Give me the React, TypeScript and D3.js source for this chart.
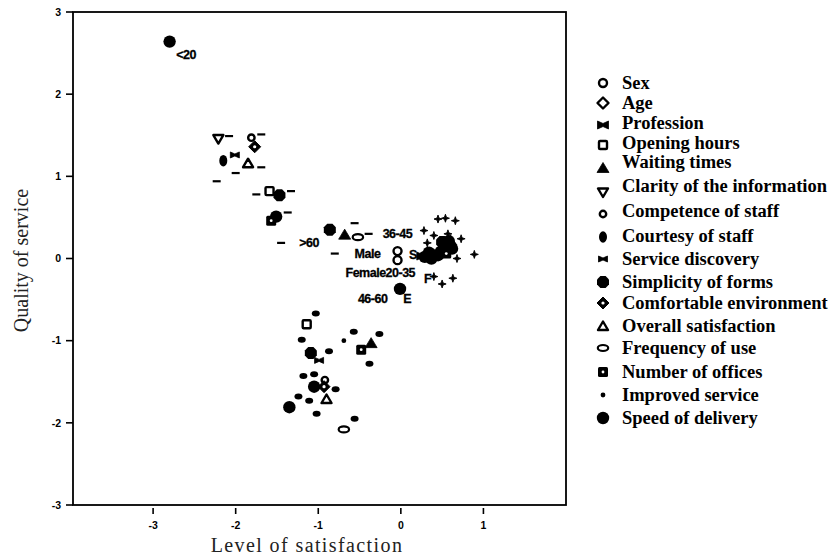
import React from "react";
import * as d3 from "d3";

// ---------- data ----------
const legendNames = [
  "Sex", "Age", "Profession", "Opening hours", "Waiting times",
  "Clarity of the information", "Competence of staff", "Courtesy of staff",
  "Service discovery", "Simplicity of forms", "Comfortable environment",
  "Overall satisfaction", "Frequency of use", "Number of offices",
  "Improved service", "Speed of delivery",
];
const legendShapes = [
  "openCircle", "openDiamond", "bowtie", "openSquare", "triUp",
  "openTriDown", "ring", "vEllipse", "smallBowtie", "octagon",
  "dotDiamond", "openTriUp", "hEllipse", "dotSquare", "smallDot", "bigCircle",
];

const sexPts: [number, number][] = [[-0.04, 0.09], [-0.04, -0.02]];
const agePts: [number, number][] = [];
const professionPts: [number, number][] = [[0.26, 0.03]];
const openingPts: [number, number][] = [[-1.59, 0.82], [-1.14, -0.8]];
const waitingPts: [number, number][] = [[-0.68, 0.29], [-0.36, -1.03], [0.6, 0.22]];
const clarityPts: [number, number][] = [[-2.21, 1.46]];
const competencePts: [number, number][] = [[-1.81, 1.47], [-0.92, -1.48]];
const courtesyPts: [number, number][] = [[-2.15, 1.19], [0.46, 0.08]];
const discoveryPts: [number, number][] = [[-2.01, 1.26], [-0.99, -1.24]];
const simplicityPts: [number, number][] = [[-1.47, 0.77], [-0.86, 0.35], [-1.09, -1.15], [0.6, 0.15], [0.38, 0.04], [0.5, 0.2]];
const comfortPts: [number, number][] = [[-1.77, 1.36], [-0.93, -1.56]];
const overallPts: [number, number][] = [[-1.85, 1.16], [-0.9, -1.71]];
const frequencyPts: [number, number][] = [[-0.52, 0.26], [-0.69, -2.08]];
const officesPts: [number, number][] = [[-1.57, 0.46], [-0.48, -1.11], [0.55, 0.06]];
const improvedPts: [number, number][] = [[-0.69, -1.0]];
const speedPts: [number, number][] = [
  [-2.8, 2.64], [-1.51, 0.51], [-0.01, -0.37], [-1.35, -1.81], [-1.05, -1.56],
  [0.29, 0.02], [0.34, 0.07], [0.37, 0.0], [0.45, 0.04], [0.52, 0.12],
  [0.58, 0.21], [0.62, 0.12],
];

const dashPts: [number, number][] = [
  [-2.08, 1.49], [-1.69, 1.51], [-1.69, 1.11], [-2.0, 1.04], [-2.23, 0.94],
  [-1.75, 0.78], [-1.33, 0.82], [-1.37, 0.56], [-0.56, 0.43], [-1.45, 0.19],
  [-0.39, 0.3], [-0.8, 0.06],
];
const blobPts: [number, number][] = [
  [-1.03, -0.67], [-1.2, -0.99], [-0.57, -0.89], [-0.26, -0.92], [-0.38, -1.28],
  [-0.87, -1.13], [-1.18, -1.43], [-1.05, -1.41], [-0.79, -1.59], [-1.24, -1.68],
  [-1.11, -1.73], [-1.02, -1.89], [-0.56, -1.95],
];
const plusPts: [number, number][] = [
  [0.45, 0.48], [0.54, 0.49], [0.66, 0.46], [0.28, 0.34], [0.4, 0.28],
  [0.57, 0.3], [0.73, 0.24], [0.32, 0.19], [0.89, 0.05], [0.68, 0.0],
  [0.4, -0.22], [0.5, -0.31], [0.63, -0.24],
];

const pointLabels = ["<20", ">60", "36-45", "Male", "S", "Female20-35", "F", "46-60", "E"];
const pointLabelPos: [number, number][] = [
  [-2.72, 2.43], [-1.23, 0.14], [-0.22, 0.25], [-0.56, 0.01], [0.1, 0.0],
  [-0.67, -0.23], [0.28, -0.3], [-0.52, -0.54], [0.03, -0.54],
];

const xTicks = [-3, -2, -1, 0, 1];
const yTicks = [3, 2, 1, 0, -1, -2, -3];

// ---------- layout ----------
const W = 831, H = 558;
const L = 73, R = 566, T = 12, B = 505;
const x = d3.scaleLinear().domain([-3.97, 2.0]).range([L, R]);
const y = d3.scaleLinear().domain([-3, 3]).range([B, T]);

function Marker({ shape, cx, cy }: { shape: string; cx: number; cy: number }) {
  const k = "#000";
  const t = `translate(${cx},${cy})`;
  switch (shape) {
    case "openCircle":
      return <circle cx={cx} cy={cy} r={4} fill="#fff" stroke={k} strokeWidth={2.4} />;
    case "openDiamond":
      return <path transform={t} d="M0,-5.5L5.5,0L0,5.5L-5.5,0Z" fill="#fff" stroke={k} strokeWidth={2.4} strokeLinejoin="round" />;
    case "bowtie":
      return <path transform={t} d="M-5.5,-4L0,-1.5L5.5,-4L5.5,4L0,1.5L-5.5,4Z" fill={k} stroke={k} strokeWidth={0.8} strokeLinejoin="round" />;
    case "openSquare":
      return <rect x={cx - 4} y={cy - 4} width={8} height={8} rx={1} fill="#fff" stroke={k} strokeWidth={2.4} />;
    case "triUp":
      return <path transform={t} d="M0,-5.5L6,4.5L-6,4.5Z" fill={k} stroke={k} strokeWidth={0.8} strokeLinejoin="round" />;
    case "openTriDown":
      return <path transform={t} d="M-5,-3.5L5,-3.5L0,5Z" fill="#fff" stroke={k} strokeWidth={2.4} strokeLinejoin="round" />;
    case "ring":
      return <circle cx={cx} cy={cy} r={3.2} fill="#fff" stroke={k} strokeWidth={2.4} />;
    case "vEllipse":
      return <ellipse cx={cx} cy={cy} rx={4} ry={5.8} fill={k} />;
    case "smallBowtie":
      return <path transform={t} d="M-4.5,-3L0,-1L4.5,-3L4.5,3L0,1L-4.5,3Z" fill={k} stroke={k} strokeWidth={0.8} strokeLinejoin="round" />;
    case "octagon":
      return <path transform={t} d="M-2.6,-6L2.6,-6L6,-2.6L6,2.6L2.6,6L-2.6,6L-6,2.6L-6,-2.6Z" fill={k} />;
    case "dotDiamond":
      return (
        <g>
          <path transform={t} d="M0,-6L6,0L0,6L-6,0Z" fill={k} strokeLinejoin="round" stroke={k} strokeWidth={1} />
          <circle cx={cx} cy={cy} r={1.6} fill="#fff" />
        </g>
      );
    case "openTriUp":
      return <path transform={t} d="M0,-4.5L5,4L-5,4Z" fill="#fff" stroke={k} strokeWidth={2.4} strokeLinejoin="round" />;
    case "hEllipse":
      return <ellipse cx={cx} cy={cy} rx={5.2} ry={3} fill="#fff" stroke={k} strokeWidth={2.2} />;
    case "dotSquare":
      return (
        <g>
          <rect x={cx - 5} y={cy - 5} width={10} height={10} rx={1.5} fill={k} />
          <circle cx={cx} cy={cy} r={1.4} fill="#fff" />
        </g>
      );
    case "smallDot":
      return <circle cx={cx} cy={cy} r={2.4} fill={k} />;
    case "bigCircle":
      return <circle cx={cx} cy={cy} r={6.2} fill={k} />;
    case "dash":
      return <line x1={cx - 4} x2={cx + 4} y1={cy} y2={cy} stroke={k} strokeWidth={2.2} />;
    case "blob":
      return <ellipse cx={cx} cy={cy} rx={4} ry={3} fill={k} />;
    case "plus":
      return <path transform={t} d="M0,-4L1,-1L4,0L1,1L0,4L-1,1L-4,0L-1,-1Z" fill={k} stroke={k} strokeWidth={0.9} strokeLinejoin="round" />;
    default:
      return null;
  }
}

const seriesList: { shape: string; pts: [number, number][] }[] = [
  { shape: "dash", pts: dashPts },
  { shape: "blob", pts: blobPts },
  { shape: "plus", pts: plusPts },
  { shape: "openDiamond", pts: agePts },
  { shape: "openSquare", pts: openingPts },
  { shape: "openTriDown", pts: clarityPts },
  { shape: "ring", pts: competencePts },
  { shape: "dotDiamond", pts: comfortPts },
  { shape: "openTriUp", pts: overallPts },
  { shape: "hEllipse", pts: frequencyPts },
  { shape: "bigCircle", pts: speedPts },
  { shape: "octagon", pts: simplicityPts },
  { shape: "vEllipse", pts: courtesyPts },
  { shape: "bowtie", pts: professionPts },
  { shape: "smallBowtie", pts: discoveryPts },
  { shape: "dotSquare", pts: officesPts },
  { shape: "triUp", pts: waitingPts },
  { shape: "smallDot", pts: improvedPts },
  { shape: "openCircle", pts: sexPts },
];

const legendRowY = [83, 103, 123, 143, 162, 186, 211, 236, 259, 282, 303, 326, 348, 372, 395, 418];
const legendMarkerDy = [0, 0, 2, 2, 6, 6, 3, 1, 0, 0, 0, 0, 0, 0, 0, 0];

export default function App() {
  const tickFont = "'Liberation Sans', Arial, sans-serif";
  const serif = "'Liberation Serif', 'Times New Roman', serif";
  return (
    <svg width={W} height={H} style={{ position: "absolute", left: 0, top: 0, background: "#fff" }}>
      <rect x={0} y={0} width={W} height={H} fill="#fff" />
      {/* frame */}
      <rect x={L} y={T} width={R - L} height={B - T} fill="none" stroke="#000" strokeWidth={1.8} />
      {/* y ticks */}
      {yTicks.map((v) => (
        <g key={"yt" + v}>
          <line x1={L - 7} x2={L} y1={y(v)} y2={y(v)} stroke="#000" strokeWidth={1.6} />
          <text x={L - 12} y={y(v)} dy="0.35em" textAnchor="end" fontFamily={tickFont} fontWeight="bold" fontSize={10.5}>
            {v < 0 ? "-" + Math.abs(v) : String(v)}
          </text>
        </g>
      ))}
      {/* x ticks */}
      {xTicks.map((v) => (
        <g key={"xt" + v}>
          <line x1={x(v)} x2={x(v)} y1={B + 3} y2={B + 9} stroke="#000" strokeWidth={1.6} />
          <text x={x(v)} y={B + 24} textAnchor="middle" fontFamily={tickFont} fontWeight="bold" fontSize={10.5}>
            {v < 0 ? "-" + Math.abs(v) : String(v)}
          </text>
        </g>
      ))}
      {/* axis titles */}
      <text x={307} y={552} textAnchor="middle" fontFamily={serif} fontSize={20} letterSpacing={1.4} fill="#222">
        Level of satisfaction
      </text>
      <text transform={`translate(28,${y(0) + 2}) rotate(-90)`} textAnchor="middle" fontFamily={serif} fontSize={20} fill="#222">
        Quality of service
      </text>
      {/* points */}
      {seriesList.map((s, si) =>
        s.pts.map((p, i) => <Marker key={si + "-" + i} shape={s.shape} cx={x(p[0])} cy={y(p[1])} />)
      )}
      {/* point labels */}
      {pointLabels.map((lab, i) => (
        <text key={"pl" + i} x={x(pointLabelPos[i][0])} y={y(pointLabelPos[i][1])} fontFamily={tickFont} fontWeight="bold" fontSize={12.5} letterSpacing={-0.5} stroke="#000" strokeWidth={0.3}>
          {lab}
        </text>
      ))}
      {/* legend */}
      {legendNames.map((name, i) => (
        <g key={"lg" + i}>
          <Marker shape={legendShapes[i]} cx={603} cy={legendRowY[i] + legendMarkerDy[i]} />
          <text x={622} y={legendRowY[i]} dy="0.35em" fontFamily={serif} fontWeight="bold" fontSize={18.5}>
            {name}
          </text>
        </g>
      ))}
    </svg>
  );
}
